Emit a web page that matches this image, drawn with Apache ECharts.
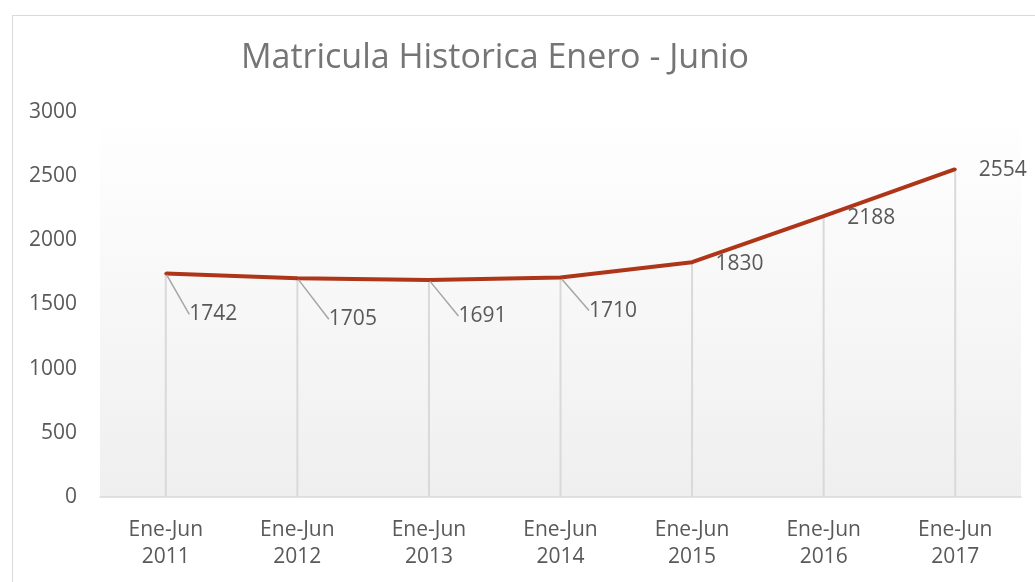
<!DOCTYPE html>
<html>
<head>
<meta charset="utf-8">
<script src="https://cdn.jsdelivr.net/npm/echarts@6/dist/echarts.min.js"></script>
<style>html,body{margin:0;padding:0;background:#fff}#c{width:1035px;height:582px}</style>
</head>
<body>
<div id="c"></div>
<script>
const categories = ['Ene-Jun\n2011','Ene-Jun\n2012','Ene-Jun\n2013','Ene-Jun\n2014','Ene-Jun\n2015','Ene-Jun\n2016','Ene-Jun\n2017'];
const values = [1742, 1705, 1691, 1710, 1830, 2188, 2554];
const yTicks = { min: 0, max: 3000, interval: 500 };
const titleText = 'Matricula Historica Enero - Junio';

// label nudges (pixels) to mimic the moved data labels
const labelShift = [[0, 41], [8, 41], [6, 36], [5, 33], [0, 2], [0, 2], [0, 1]];
const hasLeader = [true, true, true, true, false, false, false];

const FONT = '"Open Sans", "Liberation Sans", sans-serif';
const chart = echarts.init(document.getElementById('c'), null, { renderer: 'canvas' });

const lineData = values.map((v, i) => ({
  value: v,
  labelLine: { show: hasLeader[i], lineStyle: { color: '#a6a6a6', width: 1.5 } }
}));

chart.setOption({
  animation: false,
  backgroundColor: '#fff',
  title: {
    text: titleText,
    left: 490, top: 36, textAlign: 'center',
    textStyle: { fontFamily: FONT, fontSize: 34, fontWeight: 'normal', color: '#757575' }
  },
  graphic: [{
    type: 'rect', left: 10, top: 13, silent: true, z: -10,
    shape: { x: 0, y: 0, width: 1060, height: 600 },
    style: { fill: 'none', stroke: '#d9d9d9', lineWidth: 1 }
  }],
  grid: {
    left: 100, right: 14, top: 112, bottom: 85,
    show: true, borderWidth: 0,
    backgroundColor: new echarts.graphic.LinearGradient(0, 0, 0, 1, [
      { offset: 0, color: '#ffffff' }, { offset: 1, color: '#efefef' }
    ])
  },
  xAxis: {
    type: 'category', data: categories, boundaryGap: true,
    axisLine: { lineStyle: { color: '#d9d9d9', width: 1.5 } },
    axisTick: { show: false },
    axisLabel: { fontFamily: FONT, fontSize: 21, color: '#595959', lineHeight: 27, margin: 20 }
  },
  yAxis: {
    type: 'value', min: yTicks.min, max: yTicks.max, interval: yTicks.interval,
    axisLine: { show: false }, axisTick: { show: false },
    splitLine: { show: false },
    axisLabel: { fontFamily: FONT, fontSize: 21, color: '#595959', margin: 23,
      formatter: function (v) { return String(v); } }
  },
  series: [{
    type: 'bar', data: values, barWidth: 2, silent: true,
    itemStyle: { color: '#d9d9d9' }, z: 1
  }, {
    type: 'line', data: lineData, z: 3,
    symbol: 'circle', symbolSize: 3, showSymbol: true,
    lineStyle: { color: '#AE3517', width: 4 },
    itemStyle: { color: '#AE3517' },
    label: {
      show: true, position: 'right', distance: 22,
      fontFamily: FONT, fontSize: 21, color: '#595959'
    },
    labelLayout: function (p) {
      const s = labelShift[p.dataIndex];
      return { dx: s[0], dy: s[1] };
    }
  }]
});
</script>
</body>
</html>
